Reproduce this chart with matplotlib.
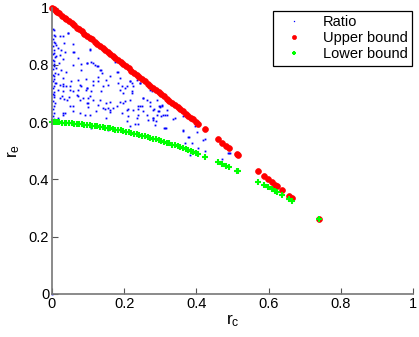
import matplotlib
matplotlib.use("Agg")
import matplotlib.pyplot as plt

plt.rcParams["font.family"] = ["Liberation Sans", "DejaVu Sans"]
plt.rcParams["mathtext.fontset"] = "custom"
plt.rcParams["mathtext.rm"] = "Liberation Sans"
plt.rcParams["mathtext.it"] = "Liberation Sans"

# bounds
bound_x = [0, 0.005, 0.01, 0.015, 0.02, 0.028, 0.035, 0.04, 0.048, 0.055, 0.062, 0.07, 0.075,
           0.082, 0.09, 0.097, 0.105, 0.11, 0.118, 0.125, 0.132, 0.14, 0.147, 0.155, 0.16, 0.168,
           0.175, 0.183, 0.19, 0.198, 0.205, 0.212, 0.22, 0.227, 0.235, 0.242, 0.25, 0.257, 0.265,
           0.272, 0.28, 0.287, 0.295, 0.302, 0.31, 0.318, 0.325, 0.333, 0.34, 0.348, 0.355, 0.362,
           0.37, 0.377, 0.385, 0.39, 0.398, 0.405, 0.424, 0.46, 0.471, 0.482, 0.49, 0.512, 0.515,
           0.571, 0.587, 0.598, 0.609, 0.618, 0.623, 0.637, 0.657, 0.665, 0.74]
upper_y = [1, 0.995, 0.99, 0.985, 0.98, 0.972, 0.965, 0.96, 0.952, 0.945, 0.938, 0.93, 0.925,
           0.918, 0.91, 0.903, 0.895, 0.89, 0.882, 0.875, 0.868, 0.86, 0.853, 0.845, 0.84, 0.832,
           0.825, 0.817, 0.81, 0.802, 0.795, 0.788, 0.78, 0.773, 0.765, 0.758, 0.75, 0.743, 0.735,
           0.728, 0.72, 0.713, 0.705, 0.698, 0.69, 0.682, 0.675, 0.667, 0.66, 0.652, 0.645, 0.638,
           0.63, 0.623, 0.615, 0.61, 0.602, 0.595, 0.576, 0.54, 0.529, 0.518, 0.51, 0.488, 0.485,
           0.429, 0.413, 0.402, 0.391, 0.382, 0.377, 0.363, 0.343, 0.335, 0.26]
lower_y = [0.6, 0.6, 0.599, 0.599, 0.599, 0.598, 0.598, 0.597, 0.596, 0.596, 0.595, 0.594, 0.593,
           0.592, 0.591, 0.59, 0.589, 0.588, 0.586, 0.585, 0.584, 0.582, 0.581, 0.579, 0.578, 0.576,
           0.574, 0.572, 0.571, 0.569, 0.567, 0.565, 0.562, 0.56, 0.558, 0.556, 0.553, 0.551, 0.548,
           0.546, 0.543, 0.54, 0.537, 0.535, 0.532, 0.528, 0.526, 0.522, 0.519, 0.516, 0.513, 0.51,
           0.506, 0.503, 0.499, 0.497, 0.493, 0.49, 0.48, 0.461, 0.454, 0.448, 0.443, 0.43, 0.428,
           0.392, 0.381, 0.373, 0.366, 0.359, 0.355, 0.345, 0.33, 0.324, 0.26]

# ratio points (estimated)
ratio_x = [0.003, 0.005, 0.004, 0.008, 0.003, 0.006, 0.004, 0.009, 0.003, 0.007, 0.005, 0.004,
           0.008, 0.003, 0.006, 0.004, 0.009, 0.005, 0.003, 0.007, 0.004, 0.006, 0.003, 0.008,
           0.005, 0.004, 0.007, 0.003, 0.006,
           0.007, 0.009, 0.021, 0.030, 0.044, 0.006, 0.012, 0.033, 0.058, 0.017, 0.026, 0.037,
           0.061, 0.104, 0.006, 0.012, 0.021, 0.030, 0.007, 0.019, 0.072, 0.058, 0.081, 0.098,
           0.109, 0.118, 0.127, 0.137, 0.012, 0.026, 0.040, 0.081, 0.017, 0.007, 0.030, 0.053,
           0.072, 0.095, 0.114, 0.127, 0.012, 0.021, 0.030, 0.040, 0.081, 0.098,
           0.007, 0.017, 0.030, 0.049, 0.072, 0.095, 0.109, 0.137, 0.021, 0.033, 0.046, 0.072,
           0.100, 0.132, 0.058, 0.100, 0.100, 0.123, 0.146, 0.030, 0.030, 0.091, 0.017, 0.109,
           0.175, 0.184, 0.188, 0.156, 0.193, 0.202, 0.216, 0.221, 0.235, 0.244, 0.221, 0.271,
           0.161, 0.188, 0.202, 0.216, 0.239, 0.253, 0.271, 0.290, 0.211,
           0.156, 0.170, 0.161, 0.207, 0.239, 0.248, 0.253, 0.283, 0.294, 0.299, 0.239, 0.207,
           0.267, 0.281, 0.287, 0.285, 0.230, 0.239, 0.216, 0.302, 0.311, 0.154,
           0.304, 0.308, 0.318, 0.341, 0.364, 0.313, 0.362, 0.396, 0.401, 0.378, 0.368, 0.387,
           0.419, 0.391, 0.405, 0.493, 0.491, 0.470,
           0.276, 0.295, 0.304, 0.295, 0.281, 0.316, 0.336, 0.362, 0.380, 0.424, 0.424, 0.382,
           0.488, 0.045, 0.059, 0.105, 0.096, 0.114, 0.124, 0.133, 0.138, 0.151, 0.161, 0.179,
           0.184, 0.207, 0.216, 0.235, 0.253, 0.271, 0.281, 0.290, 0.299, 0.313, 0.244, 0.225,
           0.198, 0.179, 0.161, 0.151, 0.142, 0.128, 0.114, 0.096, 0.078, 0.068, 0.050, 0.031,
           0.027, 0.041, 0.050, 0.059, 0.036, 0.078, 0.105, 0.151, 0.193, 0.211, 0.235, 0.262,
           0.281, 0.318, 0.105, 0.087, 0.059, 0.078, 0.096, 0.114, 0.128, 0.142, 0.188, 0.198,
           0.225, 0.221, 0.244, 0.262, 0.0]
ratio_y = [0.925, 0.905, 0.89, 0.878, 0.865, 0.852, 0.84, 0.828, 0.818, 0.805, 0.795, 0.785,
           0.772, 0.765, 0.752, 0.745, 0.738, 0.728, 0.718, 0.705, 0.698, 0.688, 0.675, 0.668,
           0.655, 0.645, 0.632, 0.622, 0.612,
           0.921, 0.900, 0.902, 0.900, 0.911, 0.882, 0.871, 0.876, 0.874, 0.859, 0.853, 0.847,
           0.847, 0.856, 0.842, 0.830, 0.836, 0.821, 0.813, 0.807, 0.824, 0.801, 0.803, 0.807,
           0.809, 0.801, 0.795, 0.783, 0.789, 0.783, 0.777, 0.783, 0.769, 0.760, 0.754, 0.743,
           0.748, 0.751, 0.743, 0.758, 0.737, 0.731, 0.734, 0.725, 0.725, 0.719,
           0.696, 0.713, 0.710, 0.713, 0.713, 0.713, 0.710, 0.710, 0.684, 0.682, 0.687, 0.690,
           0.684, 0.678, 0.658, 0.667, 0.652, 0.638, 0.647, 0.632, 0.624, 0.624, 0.614, 0.579,
           0.812, 0.777, 0.754, 0.731, 0.725, 0.719, 0.743, 0.737, 0.758, 0.737, 0.708, 0.713,
           0.672, 0.672, 0.675, 0.678, 0.655, 0.684, 0.672, 0.678, 0.647,
           0.649, 0.649, 0.635, 0.643, 0.647, 0.655, 0.640, 0.647, 0.640, 0.652, 0.626, 0.605,
           0.608, 0.614, 0.605, 0.591, 0.593, 0.593, 0.585, 0.620, 0.579, 0.573,
           0.661, 0.626, 0.626, 0.614, 0.620, 0.579, 0.568, 0.585, 0.565, 0.548, 0.529, 0.527,
           0.538, 0.498, 0.509, 0.494, 0.492, 0.471,
           0.708, 0.655, 0.657, 0.638, 0.614, 0.579, 0.610, 0.571, 0.548, 0.541, 0.501, 0.486,
           0.492, 0.911, 0.847, 0.853, 0.807, 0.807, 0.795, 0.783, 0.772, 0.748, 0.760, 0.777,
           0.737, 0.725, 0.743, 0.748, 0.684, 0.655, 0.643, 0.626, 0.655, 0.626, 0.655, 0.643,
           0.667, 0.655, 0.643, 0.667, 0.649, 0.661, 0.678, 0.667, 0.678, 0.696, 0.725, 0.725,
           0.690, 0.678, 0.655, 0.638, 0.632, 0.632, 0.626, 0.614, 0.632, 0.620, 0.614, 0.626,
           0.608, 0.643, 0.690, 0.684, 0.708, 0.731, 0.719, 0.731, 0.743, 0.725, 0.713, 0.702,
           0.725, 0.702, 0.737, 0.678, 0.0]

ticks = [0, 0.2, 0.4, 0.6, 0.8, 1]
tick_labels = ["0", "0.2", "0.4", "0.6", "0.8", "1"]

fig = plt.figure(figsize=(4.19, 3.37), dpi=100)
ax = fig.add_axes([0.124, 0.128, 0.862, 0.849])
ax.plot(ratio_x, ratio_y, "s", color="blue", ms=1.3, mew=0, label="Ratio", clip_on=False)
ax.plot(bound_x, upper_y, "o", color="red", ms=4.2, mec="red", mew=0.5, label="Upper bound", clip_on=False)
ax.plot(bound_x, lower_y, "+", color="#00ff00", ms=5, mew=1.5, label="Lower bound", clip_on=False)

ax.set_xlim(0, 1); ax.set_ylim(0, 1)
ax.set_xticks(ticks); ax.set_xticklabels(tick_labels)
ax.set_yticks(ticks); ax.set_yticklabels(tick_labels)
ax.tick_params(direction="in", length=4, labelsize=10.5, color="#555555", pad=2)
for s in ("top", "right"):
    ax.spines[s].set_visible(False)
for s in ("left", "bottom"):
    ax.spines[s].set_color("#777777"); ax.spines[s].set_linewidth(1.2)
ax.set_xlabel(r"$\mathregular{r_c}$", fontsize=12.5, labelpad=1)
ax.set_ylabel(r"$\mathregular{r_e}$", fontsize=12.5, labelpad=5)

leg = ax.legend(loc="upper right", bbox_to_anchor=(1.005, 1.0), fontsize=10.5, markerscale=0.7,
                handlelength=2.2, handletextpad=0.9, borderpad=0.3, labelspacing=0.15,
                fancybox=False, framealpha=1, edgecolor="black", borderaxespad=0.2)
leg.get_frame().set_linewidth(0.9)

fig.savefig("out.png", dpi=100)
